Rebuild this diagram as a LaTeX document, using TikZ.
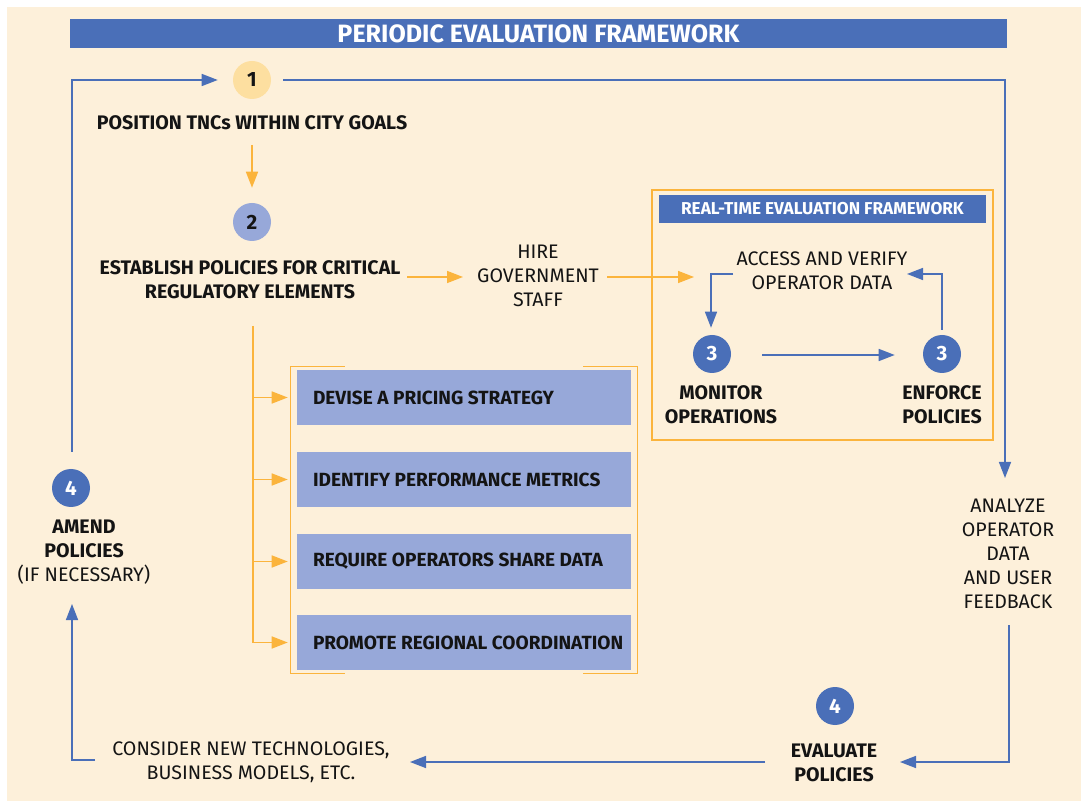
\documentclass[tikz,border=0pt]{standalone}
\usepackage{fontspec}
\setmainfont{Fira Sans}
\usetikzlibrary{arrows.meta,calc}
\definecolor{cream}{HTML}{FDF0DA}
\definecolor{blu}{HTML}{4A6FB8}
\definecolor{peri}{HTML}{97A8D9}
\definecolor{org}{HTML}{FBB43C}
\definecolor{yel}{HTML}{FDDFA0}
\definecolor{ink}{HTML}{141414}
\newcommand{\tasktext}[1]{\makebox[226.5pt][l]{#1}}
\begin{document}
\begin{tikzpicture}[x=0.75pt,y=-0.75pt,
  txt/.style={inner sep=0pt, align=center, text=ink, font=\fontsize{14.7}{18}\selectfont},
  btxt/.style={inner sep=0pt, align=center, text=ink, font=\fontsize{14.7}{18}\selectfont\bfseries},
  circ/.style={circle, inner sep=0pt, minimum size=28.5pt, font=\fontsize{15.5}{15.5}\selectfont\bfseries},
  bcirc/.style={circ, fill=blu, text=white},
  bline/.style={draw=blu, line width=1.1pt},
  barr/.style={bline, -{Triangle[length=12pt,width=9pt]}},
  oline/.style={draw=org, line width=1.2pt},
  oarr/.style={oline, -{Triangle[length=12pt,width=9pt]}},
  bracket/.style={draw=org, line width=0.9pt},
  taskbox/.style={fill=peri, inner xsep=12pt, inner ysep=0pt, minimum height=41.25pt,
    minimum width=250.5pt, text=ink, font=\fontsize{14.3}{16}\selectfont\bfseries},
  barbox/.style={fill=blu, text=white, inner sep=0pt, font=\bfseries}
]
\useasboundingbox (0,0) rectangle (1083,802);
\fill[white] (0,0) rectangle (1083,802);
\fill[cream] (7,7) rectangle (1081,801);

% title bar
\node[barbox, minimum width=702.75pt, minimum height=21.75pt, font=\fontsize{18.8}{18.8}\selectfont\bfseries] (title) at (538.5,33.5) {PERIODIC EVALUATION FRAMEWORK};

% step 1 and 2
\node[circ, fill=yel, text=ink] (c1) at (252,80) {1};
\node[btxt] (t1) at (252,123) {POSITION TNCs WITHIN CITY GOALS};
\node[circ, fill=peri, text=ink] (c2) at (252,222) {2};
\node[btxt] (t2) at (250,280) {ESTABLISH POLICIES FOR CRITICAL\\REGULATORY ELEMENTS};
\node[txt] (t3) at (538,276) {HIRE\\GOVERNMENT\\STAFF};

% real-time framework
\draw[org, line width=2.2pt] (652,190) rectangle (993,440);
\node[barbox, minimum width=245.25pt, minimum height=21pt, font=\fontsize{12.9}{12.9}\selectfont\bfseries] (rt) at (822.5,209) {REAL-TIME EVALUATION FRAMEWORK};
\node[txt] (t4) at (822,271) {ACCESS AND VERIFY\\OPERATOR DATA};
\node[bcirc] (c3a) at (712,354) {3};
\node[bcirc] (c3b) at (942,354) {3};
\node[btxt] (t6) at (721,405) {MONITOR\\OPERATIONS};
\node[btxt] (t7) at (942,405) {ENFORCE\\POLICIES};

% task boxes
\node[taskbox] (b1) at (464,397.5) {\tasktext{DEVISE A PRICING STRATEGY}};
\node[taskbox] (b2) at (464,479.5) {\tasktext{IDENTIFY PERFORMANCE METRICS}};
\node[taskbox] (b3) at (464,561.5) {\tasktext{REQUIRE OPERATORS SHARE DATA}};
\node[taskbox] (b4) at (464,642.5) {\tasktext{PROMOTE REGIONAL COORDINATION}};

% right / bottom / left
\node[txt] (t5) at (1008,554) {ANALYZE\\OPERATOR\\DATA\\AND USER\\FEEDBACK};
\node[bcirc] (c4b) at (835,706) {4};
\node[btxt] (t8) at (834,763) {EVALUATE\\POLICIES};
\node[txt] (t9) at (251,762) {CONSIDER NEW TECHNOLOGIES,\\BUSINESS MODELS, ETC.};
\node[bcirc] (c4a) at (71,488) {4};
\node[txt] (t10) at (84,552) {\textbf{AMEND}\\\textbf{POLICIES}\\(IF NECESSARY)};

% coordinates
\coordinate (lt) at (72,452);
\coordinate (tr) at (253,326);
\coordinate (rd) at (1009,625);

% connectors: periodic loop
\draw[barr] (lt) |- ($(c1.west)+(-15,0)$);
\draw[barr] ($(c1.east)+(12,0)$) -| ($(t5.center)+(-3,-76)$);
\draw[barr] (rd) |- ($(t8.center)+(66,-1)$);
\draw[barr] ($(t8.center)+(-69,-1)$) -- ($(t9.center)+(159,0)$);
\draw[barr] ($(t9.center)+(-156,-2)$) -| ($(c4a.center)+(1,116)$);

% orange flow
\draw[oarr] ($(t1.center)+(0,22)$) -- ($(c2.north)+(0,-15)$);
\draw[oarr] ($(t2.center)+(157,-3)$) -- ($(t3.center)+(-75,1)$);
\draw[oarr] ($(t3.center)+(69,1)$) -- ($(t4.center)+(-128,6)$);
\draw[oline] (tr) -- (tr |- b4.west);
\foreach \b in {b1,b2,b3,b4}
  \draw[oarr] (tr |- \b.west) -- ($(\b.west)+(-9,0)$);

% brackets
\draw[bracket] ($(b1.north west)+(48,-3)$) -- ($(b1.north west)+(-6,-3)$) -- ($(b4.south west)+(-6,3)$) -- ($(b4.south west)+(48,3)$);
\draw[bracket] ($(b1.north east)+(-48,-3)$) -- ($(b1.north east)+(6,-3)$) -- ($(b4.south east)+(6,3)$) -- ($(b4.south east)+(-48,3)$);

% real-time loop
\draw[barr] ($(t4.center)+(-89,3)$) -| ($(c3a.north)+(-1,-7)$);
\draw[barr] ($(c3a.east)+(31,1)$) -- ($(c3b.west)+(-28,1)$);
\draw[barr] ($(c3b.north)+(0,-5)$) |- ($(t4.center)+(85,3)$);
\end{tikzpicture}
\end{document}
